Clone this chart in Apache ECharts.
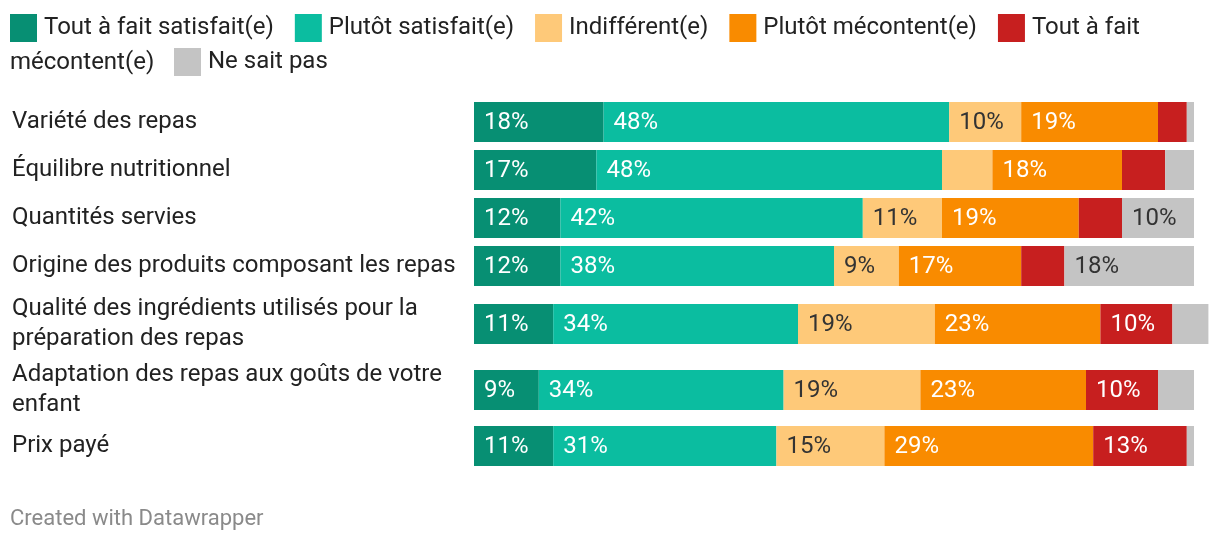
<!DOCTYPE html>
<html>
<head>
<meta charset="utf-8">
<script src="https://cdn.jsdelivr.net/npm/echarts@6/dist/echarts.min.js"></script>
<style>
html,body{margin:0;padding:0;background:#fff;}
#chart{width:1220px;height:542px;}
</style>
</head>
<body>
<div id="chart"></div>
<script>
// ---- Data ----
const categories = [
  "Variété des repas",
  "Équilibre nutritionnel",
  "Quantités servies",
  "Origine des produits composant les repas",
  "Qualité des ingrédients utilisés pour la préparation des repas",
  "Adaptation des repas aux goûts de votre enfant",
  "Prix payé"
];
const levels = [
  "Tout à fait satisfait(e)",
  "Plutôt satisfait(e)",
  "Indifférent(e)",
  "Plutôt mécontent(e)",
  "Tout à fait mécontent(e)",
  "Ne sait pas"
];
const toutSatisfait   = [18, 17, 12, 12, 11, 9, 11];
const plutotSatisfait = [48, 48, 42, 38, 34, 34, 31];
const indifferent     = [10, 7, 11, 9, 19, 19, 15];
const plutotMecontent = [19, 18, 19, 17, 23, 23, 29];
const toutMecontent   = [4, 6, 6, 6, 10, 10, 13];
const neSaitPas       = [1, 4, 10, 18, 5, 5, 1];
const footerText = "Created with Datawrapper";

// ---- Styles / layout ----
const values = [toutSatisfait, plutotSatisfait, indifferent, plutotMecontent, toutMecontent, neSaitPas];
const colors = ["#078f73", "#0bbda0", "#fec979", "#f98b00", "#c71f1f", "#c4c4c4"];
const labelColors = ["#ffffff", "#ffffff", "#333333", "#ffffff", "#ffffff", "#333333"];
const rowTops = [102, 150, 198, 246, 304, 370, 426];
const barH = 40;
const FONT = "Roboto, 'Noto Sans', sans-serif";
const FS = 24;

const grids = [], xAxes = [], yAxes = [], series = [];
categories.forEach((cat, i) => {
  grids.push({ left: 474, width: 720, top: rowTops[i], height: barH });
  xAxes.push({ gridIndex: i, type: 'value', min: 0, max: 100, show: false });
  yAxes.push({
    gridIndex: i, type: 'category', data: [cat],
    axisLine: { show: false }, axisTick: { show: false },
    axisLabel: {
      align: 'left', margin: 462, fontSize: FS, color: '#222', fontFamily: FONT,
      width: 452, overflow: 'break', lineHeight: 30, padding: [2, 0, 0, 0]
    }
  });
  levels.forEach((lv, k) => {
    series.push({
      name: lv, type: 'bar', stack: 'row' + i,
      xAxisIndex: i, yAxisIndex: i,
      data: [values[k][i]],
      barWidth: barH, clip: false,
      itemStyle: { color: colors[k] },
      label: {
        show: values[k][i] >= 8,
        position: 'insideLeft', distance: 10, offset: [0, 1],
        formatter: '{c}%', fontSize: FS, fontFamily: FONT,
        color: labelColors[k]
      },
      emphasis: { disabled: true }
    });
  });
});

const legendCommon = {
  icon: 'rect', itemWidth: 27, itemHeight: 28, itemGap: 21, padding: 0,
  textStyle: { fontSize: FS, color: '#222', fontFamily: FONT, padding: [2, 0, 0, 2] },
  selectedMode: true
};

const option = {
  animation: false,
  grid: grids, xAxis: xAxes, yAxis: yAxes, series: series,
  legend: [
    Object.assign({}, legendCommon, {
      left: 10, top: 14, data: levels.slice(0, 5),
      formatter: n => n === levels[4] ? n.replace(' mécontent(e)', '') : n
    }),
    Object.assign({}, legendCommon, { left: 174, top: 48, data: levels.slice(5) })
  ],
  graphic: [
    { type: 'text', left: 10, top: 51,
      style: { text: 'mécontent(e)', fontSize: FS, fill: '#222', fontFamily: FONT } },
    { type: 'text', left: 10, top: 508,
      style: { text: footerText, fontSize: 22, fill: '#8a8a8a', fontFamily: FONT } }
  ]
};
const chart = echarts.init(document.getElementById('chart'));
chart.setOption(option);
</script>
</body>
</html>
